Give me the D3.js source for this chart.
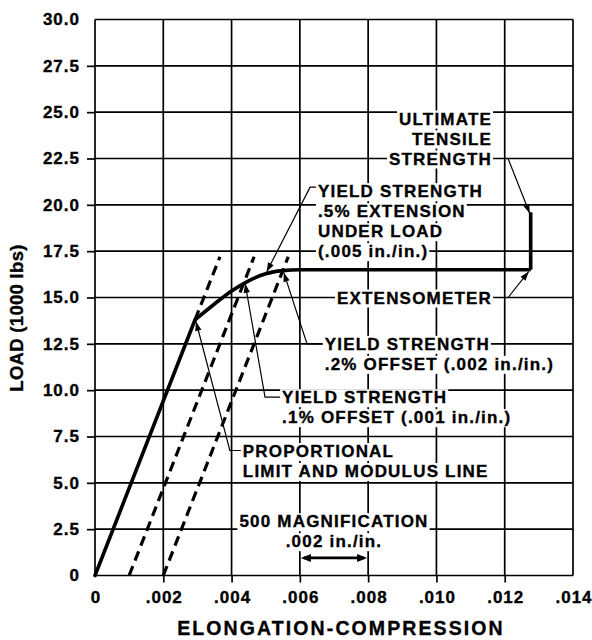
<!DOCTYPE html>
<html>
<head>
<meta charset="utf-8">
<script src="https://cdn.jsdelivr.net/npm/d3@7"></script>
<style>
  html, body { margin: 0; padding: 0; background: #fff; }
  svg { display: block; }
  text { font-family: "Liberation Sans", Arial, Helvetica, sans-serif; font-weight: bold; fill: #000;
         stroke: #000; stroke-width: 0.35px; }
</style>
</head>
<body>
<svg id="chart" width="592" height="640"></svg>
<script>
// Tensile test record: load against elongation, with yield-strength constructions.

// Axis ticks
const xTicks = [0, 0.002, 0.004, 0.006, 0.008, 0.010, 0.012, 0.014];
const xTickLabels = ["0", ".002", ".004", ".006", ".008", ".010", ".012", ".014"];
const yTicks = [0, 2.5, 5, 7.5, 10, 12.5, 15, 17.5, 20, 22.5, 25, 27.5, 30];
const yTickLabels = ["0", "2.5", "5.0", "7.5", "10.0", "12.5", "15.0", "17.5", "20.0", "22.5", "25.0", "27.5", "30.0"];

// Load–elongation curve (strain in in./in., load in 1000 lbs)
const elasticStrain = [0, 0.00293];
const elasticLoad   = [0, 13.8];
const kneeStrain = [0.00293, 0.0035, 0.004, 0.0045, 0.005, 0.0055, 0.006, 0.01276];
const kneeLoad   = [13.8, 14.65, 15.35, 15.9, 16.28, 16.45, 16.5, 16.5];
// Rise recorded at the end of the test, up to ultimate tensile strength
const ultimateStrain = [0.01276, 0.01276];
const ultimateLoad   = [16.5, 19.6];

// Modulus line and offset lines
const modulus = 4700;               // load (1000 lbs) per in./in.
const proportionalLimit = [0.00293, 13.8];
const offsetStrains = [0.001, 0.002];
const constructionTop = 17.2;       // load where the dashed lines stop

// Points the yield-strength arrows mark on the curve
const yieldHalfPercent = [0.005, 16.28];   // .5% extension under load
const yieldTwoTenths   = [0.0055, 16.45];  // .2% offset
const yieldOneTenth    = [0.00437, 15.85]; // .1% offset

// Magnification scale bar (.002 in./in.)
const magSpan = [0.006, 0.008];

// Annotation texts
const ultimateText = ["ULTIMATE", "TENSILE", "STRENGTH"];
const extensionText = ["YIELD STRENGTH", ".5% EXTENSION", "UNDER LOAD", "(.005 in./in.)"];
const extensometerText = ["EXTENSOMETER"];
const offset2Text = ["YIELD STRENGTH", ".2% OFFSET (.002 in./in.)"];
const offset1Text = ["YIELD STRENGTH", ".1% OFFSET (.001 in./in.)"];
const proportionalText = ["PROPORTIONAL", "LIMIT AND MODULUS LINE"];
const magText = ["500 MAGNIFICATION", ".002 in./in."];

const svg = d3.select("#chart");
const x = d3.scaleLinear().domain([0, 0.014]).range([95, 573]);
const y = d3.scaleLinear().domain([0, 30]).range([575.5, 19.5]);

const gGrid = svg.append("g");
const gBoxes = svg.append("g");
const gText = svg.append("g");
const gMarks = svg.append("g");

// Grid and frame
gGrid.selectAll("line.v").data(xTicks).join("line")
  .attr("x1", d => x(d)).attr("x2", d => x(d))
  .attr("y1", y(30)).attr("y2", y(0))
  .attr("stroke", "#000").attr("stroke-width", 1.7);
gGrid.selectAll("line.h").data(yTicks).join("line")
  .attr("y1", d => y(d)).attr("y2", d => y(d))
  .attr("x1", x(0)).attr("x2", x(0.014))
  .attr("stroke", "#000").attr("stroke-width", 1.7);

// Axes
const yAxis = d3.axisLeft(y).tickValues(yTicks)
  .tickFormat((d, i) => yTickLabels[i]).tickSize(8).tickPadding(7);
const xAxis = d3.axisBottom(x).tickValues(xTicks)
  .tickFormat((d, i) => xTickLabels[i]).tickSize(7).tickPadding(8.5);

function styleAxis(g, ends) {
  g.select(".domain").remove();
  g.selectAll(".tick line").attr("stroke", "#000").attr("stroke-width", 1.7)
    .attr("opacity", d => ends.includes(d) ? 0 : 1);
  g.selectAll(".tick text")
    .attr("font-family", "Liberation Sans, Arial, sans-serif")
    .attr("font-weight", "bold").attr("font-size", 17)
    .attr("letter-spacing", 1).attr("fill", "#000");
}
svg.append("g").attr("transform", `translate(${x(0)},0)`).call(yAxis)
  .call(g => styleAxis(g, [0, 30]));
svg.append("g").attr("transform", `translate(0,${y(0)})`).call(xAxis)
  .call(g => styleAxis(g, [0, 0.014]))
  .call(g => g.selectAll(".tick text").attr("dx", "0.5"));

// Axis titles
svg.append("text")
  .attr("transform", "translate(22.5,318) rotate(-90)")
  .attr("text-anchor", "middle").attr("font-size", 18.5).attr("letter-spacing", 0.3)
  .text("LOAD (1000 lbs)");
svg.append("text")
  .attr("x", 341).attr("y", 635).attr("text-anchor", "middle")
  .attr("font-size", 19.5).attr("letter-spacing", 2.1)
  .text("ELONGATION-COMPRESSION");

// Annotation blocks: each line gets a white box that breaks the grid behind it
function block(lines, px, firstBaseline, anchor) {
  lines.forEach((t, i) => {
    const el = gText.append("text")
      .attr("x", px).attr("y", firstBaseline + i * 20)
      .attr("text-anchor", anchor)
      .attr("font-size", 17).attr("letter-spacing", 1.2)
      .text(t);
    const b = el.node().getBBox();
    gBoxes.append("rect")
      .attr("x", b.x - 2).attr("y", b.y + 1)
      .attr("width", b.width + 3).attr("height", b.height - 1)
      .attr("fill", "#fff");
  });
}

const rightEdge = x(0.01163);
block(ultimateText, rightEdge, y(22.5) + 6 - 40, "end");
block(extensometerText, rightEdge, y(15) + 6, "end");
block(extensionText, x(0.00653), y(17.5) + 6 - 60, "start");
block(offset2Text, x(0.00673), y(12.5) + 6, "start");
block(offset1Text, x(0.00548), y(10) + 13, "start");
block(proportionalText, x(0.00433), y(7.5) + 20.5, "start");
block(magText, x(0.007), y(2.5) - 2, "middle");

// Curve
const pts = (xs, ys) => xs.map((v, i) => [x(v), y(ys[i])]);
const straight = d3.line();
const smooth = d3.line().curve(d3.curveMonotoneX);

gMarks.append("path").attr("d", straight(pts(elasticStrain, elasticLoad)))
  .attr("fill", "none").attr("stroke", "#000").attr("stroke-width", 3.6)
  .attr("stroke-linecap", "round");
gMarks.append("path").attr("d", smooth(pts(kneeStrain, kneeLoad)))
  .attr("fill", "none").attr("stroke", "#000").attr("stroke-width", 3.6)
  .attr("stroke-linejoin", "round");
gMarks.append("path").attr("d", straight(pts(ultimateStrain, ultimateLoad)))
  .attr("fill", "none").attr("stroke", "#000").attr("stroke-width", 3.6);

// Dashed modulus extension and offset lines
const dashed = [
  [proportionalLimit, [constructionTop / modulus, constructionTop]],
  ...offsetStrains.map(o => [[o, 0], [o + constructionTop / modulus, constructionTop]])
];
gMarks.selectAll("path.dash").data(dashed).join("path")
  .attr("d", d => straight(d.map(p => [x(p[0]), y(p[1])])))
  .attr("fill", "none").attr("stroke", "#000").attr("stroke-width", 3.2)
  .attr("stroke-dasharray", "10,6");

// Leaders with arrowheads
function arrowHead(tip, from, len = 9, half = 3.2) {
  const dx = tip[0] - from[0], dy = tip[1] - from[1];
  const L = Math.hypot(dx, dy), ux = dx / L, uy = dy / L;
  const bx = tip[0] - ux * len, by = tip[1] - uy * len;
  gMarks.append("path")
    .attr("d", `M${tip[0]},${tip[1]}L${bx - uy * half},${by + ux * half}L${bx + uy * half},${by - ux * half}Z`)
    .attr("fill", "#000");
}
function leader(points, width = 1.2) {
  gMarks.append("path").attr("d", d3.line()(points))
    .attr("fill", "none").attr("stroke", "#000").attr("stroke-width", width);
  arrowHead(points[points.length - 1], points[points.length - 2]);
}

leader([[rightEdge + 6, y(22.5)], [rightEdge + 16, y(22.5)],
        [x(ultimateStrain[1]) - 1, y(ultimateLoad[1]) + 1]]);
leader([[rightEdge + 6, y(15)], [rightEdge + 16, y(15)],
        [x(ultimateStrain[0]) - 2, y(ultimateLoad[0]) + 2]]);
leader([[x(0.00653) - 2, y(17.5) - 64], [x(0.00630), y(17.5) - 64],
        [x(yieldHalfPercent[0]) + 1, y(yieldHalfPercent[1]) - 2]]);
leader([[x(0.00673) - 2, y(12.5)], [x(0.00621), y(12.5)],
        [x(yieldTwoTenths[0]) + 1, y(yieldTwoTenths[1]) + 2]]);
leader([[x(0.00548) - 2, y(10) + 7], [x(0.00498), y(10) + 7],
        [x(yieldOneTenth[0]) + 1, y(yieldOneTenth[1]) + 2]]);
leader([[x(0.00433) - 2, y(7.5) + 14], [x(0.00395), y(7.5) + 14],
        [x(proportionalLimit[0]) + 1, y(proportionalLimit[1]) + 2]]);

// Magnification scale bar
const barY = y(0.95);
gMarks.append("line")
  .attr("x1", x(magSpan[0]) + 4).attr("x2", x(magSpan[1]) - 4)
  .attr("y1", barY).attr("y2", barY)
  .attr("stroke", "#000").attr("stroke-width", 2.6);
arrowHead([x(magSpan[0]) + 1, barY], [x(magSpan[1]), barY], 10, 4);
arrowHead([x(magSpan[1]) - 1, barY], [x(magSpan[0]), barY], 10, 4);
</script>
</body>
</html>
